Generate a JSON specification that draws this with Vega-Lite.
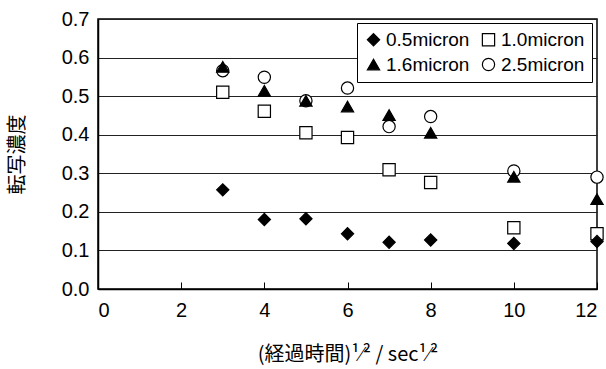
{
  "$schema": "https://vega.github.io/schema/vega-lite/v6.json",
  "width": 499,
  "height": 270,
  "autosize": {"type": "none"},
  "padding": {"left": 98, "top": 19, "right": 9, "bottom": 80},
  "background": "white",
  "config": {
    "font": "Liberation Sans",
    "view": {"stroke": "black", "strokeWidth": 1.5},
    "axis": {"labelFont": "Liberation Sans", "titleFont": "Noto Sans CJK JP", "labelColor": "black", "titleColor": "black", "domainColor": "black", "tickColor": "black", "gridColor": "#222", "titleFontWeight": "normal"},
    "legend": {"orient": "none", "legendX": 259, "legendY": 4, "columns": 2, "direction": "horizontal", "strokeColor": "black", "fillColor": "white", "padding": 7, "labelFontSize": 19, "labelColor": "black", "labelFont": "Liberation Sans", "symbolSize": 150, "symbolStrokeWidth": 1.2, "columnPadding": 9, "rowPadding": 5, "labelOffset": 3}
  },
  "data": {
    "values": [
      {"t": 3, "v": 0.566, "s": "2.5micron"},
      {"t": 4, "v": 0.549, "s": "2.5micron"},
      {"t": 5, "v": 0.488, "s": "2.5micron"},
      {"t": 6, "v": 0.521, "s": "2.5micron"},
      {"t": 7, "v": 0.421, "s": "2.5micron"},
      {"t": 8, "v": 0.447, "s": "2.5micron"},
      {"t": 10, "v": 0.306, "s": "2.5micron"},
      {"t": 12, "v": 0.29, "s": "2.5micron"},
      {"t": 3, "v": 0.51, "s": "1.0micron"},
      {"t": 4, "v": 0.461, "s": "1.0micron"},
      {"t": 5, "v": 0.405, "s": "1.0micron"},
      {"t": 6, "v": 0.393, "s": "1.0micron"},
      {"t": 7, "v": 0.309, "s": "1.0micron"},
      {"t": 8, "v": 0.276, "s": "1.0micron"},
      {"t": 10, "v": 0.159, "s": "1.0micron"},
      {"t": 12, "v": 0.143, "s": "1.0micron"},
      {"t": 3, "v": 0.576, "s": "1.6micron"},
      {"t": 4, "v": 0.514, "s": "1.6micron"},
      {"t": 5, "v": 0.488, "s": "1.6micron"},
      {"t": 6, "v": 0.473, "s": "1.6micron"},
      {"t": 7, "v": 0.451, "s": "1.6micron"},
      {"t": 8, "v": 0.405, "s": "1.6micron"},
      {"t": 10, "v": 0.291, "s": "1.6micron"},
      {"t": 12, "v": 0.233, "s": "1.6micron"},
      {"t": 3, "v": 0.257, "s": "0.5micron"},
      {"t": 4, "v": 0.18, "s": "0.5micron"},
      {"t": 5, "v": 0.182, "s": "0.5micron"},
      {"t": 6, "v": 0.143, "s": "0.5micron"},
      {"t": 7, "v": 0.121, "s": "0.5micron"},
      {"t": 8, "v": 0.127, "s": "0.5micron"},
      {"t": 10, "v": 0.118, "s": "0.5micron"},
      {"t": 12, "v": 0.123, "s": "0.5micron"}
    ]
  },
  "mark": {"type": "point", "size": 150, "strokeWidth": 1.2, "opacity": 1, "clip": false},
  "encoding": {
    "x": {
      "field": "t", "type": "quantitative",
      "scale": {"domain": [0, 12], "nice": false},
      "axis": {"values": [0, 2, 4, 6, 8, 10, 12], "grid": false, "tickSize": -7, "labelPadding": 18, "labelFontSize": 20, "titleFontSize": 20, "domainWidth": 1.5, "title": "(経過時間)¹⁄²  /  sec¹⁄²", "titlePadding": 24}
    },
    "y": {
      "field": "v", "type": "quantitative",
      "scale": {"domain": [0, 0.7], "nice": false},
      "axis": {"values": [0, 0.1, 0.2, 0.3, 0.4, 0.5, 0.6, 0.7], "format": ".1f", "grid": true, "ticks": false, "labelPadding": 9, "labelFontSize": 20, "titleFontSize": 20, "domainWidth": 1.5, "title": "転写濃度", "titlePadding": 34}
    },
    "shape": {
      "field": "s", "type": "nominal",
      "scale": {"domain": ["0.5micron", "1.0micron", "1.6micron", "2.5micron"], "range": ["diamond", "square", "triangle-up", "circle"]},
      "legend": {"title": null}
    },
    "fill": {
      "field": "s", "type": "nominal",
      "scale": {"domain": ["0.5micron", "1.0micron", "1.6micron", "2.5micron"], "range": ["black", "white", "black", "white"]},
      "legend": {"title": null}
    },
    "stroke": {
      "field": "s", "type": "nominal",
      "scale": {"domain": ["0.5micron", "1.0micron", "1.6micron", "2.5micron"], "range": ["black", "black", "black", "black"]},
      "legend": {"title": null}
    }
  }
}
